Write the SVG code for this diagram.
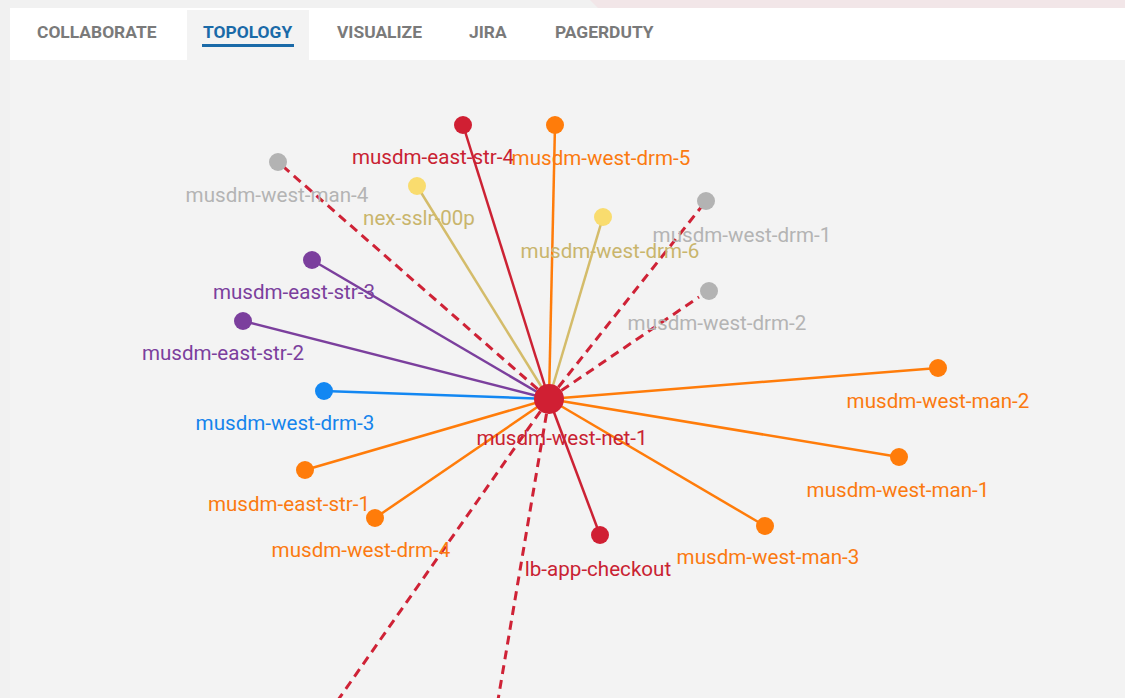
<svg xmlns="http://www.w3.org/2000/svg" width="1125" height="698" viewBox="0 0 1125 698">
<defs>
<style>
.tab{font-family:Roboto,"Liberation Sans",sans-serif;font-weight:bold;font-size:17.4px;fill:#7a7a7a}
.lbl{font-family:Roboto,"Liberation Sans",sans-serif;font-size:20.6px;text-anchor:middle}
.ln{stroke-width:2.5;fill:none}
.dash{stroke:#cf2236;stroke-width:3;stroke-dasharray:9 6;fill:none}
.red{fill:#d01f33}.org{fill:#ff7c0a}.gry{fill:#b3b3b3}.yel{fill:#f9dc6e}.pur{fill:#7b3f9d}.blu{fill:#1287f2}
.tred{fill:#c92232}.torg{fill:#fb7a10}.tgry{fill:#b4b4b4}.tyel{fill:#c9b56c}.tpur{fill:#7b3f9d}.tblu{fill:#1584ec}
</style>
</defs>
<rect x="0" y="0" width="1125" height="698" fill="#f1f1f1"/>
<polygon points="590,0 1125,0 1125,8 598,8" fill="#f2e6e8"/>
<rect x="10" y="8" width="1115" height="52" fill="#ffffff"/>
<rect x="10" y="60" width="1115" height="638" fill="#f3f3f3"/>
<g id="tabs">
<rect x="187" y="10" width="122" height="50" fill="#f3f3f3"/>
<text class="tab" x="37" y="38">COLLABORATE</text>
<text class="tab" x="203" y="38" style="fill:#1a6aa8">TOPOLOGY</text>
<rect x="202" y="44" width="92" height="3" fill="#1a6aa8"/>
<text class="tab" x="337" y="38">VISUALIZE</text>
<text class="tab" x="469" y="38">JIRA</text>
<text class="tab" x="555" y="38">PAGERDUTY</text>
</g>
<g id="connectors">
<line class="dash" x1="549" y1="399" x2="278" y2="162"/>
<line class="dash" x1="549" y1="399" x2="706" y2="201"/>
<line class="dash" x1="549" y1="399" x2="699" y2="297"/>
<line class="dash" x1="549" y1="399" x2="338" y2="700"/>
<line class="dash" x1="549" y1="399" x2="498" y2="700"/>
<line class="ln" stroke="#d4bc6a" x1="549" y1="399" x2="417" y2="186"/>
<line class="ln" stroke="#d4bc6a" x1="549" y1="399" x2="603" y2="217"/>
<line class="ln" stroke="#cc2234" x1="549" y1="399" x2="463" y2="125"/>
<line class="ln" stroke="#ff7c0a" x1="549" y1="399" x2="555" y2="125"/>
<line class="ln" stroke="#7b3f9d" x1="549" y1="399" x2="312" y2="260"/>
<line class="ln" stroke="#7b3f9d" x1="549" y1="399" x2="243" y2="321"/>
<line class="ln" stroke="#1287f2" x1="549" y1="399" x2="324" y2="391"/>
<line class="ln" stroke="#ff7c0a" x1="549" y1="399" x2="938" y2="368"/>
<line class="ln" stroke="#ff7c0a" x1="549" y1="399" x2="899" y2="457"/>
<line class="ln" stroke="#ff7c0a" x1="549" y1="399" x2="765" y2="526"/>
<line class="ln" stroke="#ff7c0a" x1="549" y1="399" x2="305" y2="470"/>
<line class="ln" stroke="#ff7c0a" x1="549" y1="399" x2="375" y2="518"/>
<line class="ln" stroke="#cc2234" x1="549" y1="399" x2="600" y2="535"/>
</g>
<g id="n-musdm-west-net-1"><circle class="red" cx="549" cy="399" r="15"/><text class="lbl tred" x="562" y="445">musdm-west-net-1</text></g>
<g id="n-musdm-east-str-4"><circle class="red" cx="463" cy="125" r="9"/><text class="lbl tred" x="433" y="164">musdm-east-str-4</text></g>
<g id="n-musdm-west-drm-5"><circle class="org" cx="555" cy="125" r="9"/><text class="lbl torg" x="601" y="165">musdm-west-drm-5</text></g>
<g id="n-musdm-west-man-4"><circle class="gry" cx="278" cy="162" r="9"/><text class="lbl tgry" x="277" y="202">musdm-west-man-4</text></g>
<g id="n-nex-sslr-00p"><circle class="yel" cx="417" cy="186" r="9"/><text class="lbl tyel" x="419" y="225">nex-sslr-00p</text></g>
<g id="n-musdm-west-drm-6"><circle class="yel" cx="603" cy="217" r="9"/><text class="lbl tyel" x="610" y="258">musdm-west-drm-6</text></g>
<g id="n-musdm-west-drm-1"><circle class="gry" cx="706" cy="201" r="9"/><text class="lbl tgry" x="742" y="242">musdm-west-drm-1</text></g>
<g id="n-musdm-west-drm-2"><circle class="gry" cx="709" cy="291" r="9"/><text class="lbl tgry" x="717" y="330">musdm-west-drm-2</text></g>
<g id="n-musdm-east-str-3"><circle class="pur" cx="312" cy="260" r="9"/><text class="lbl tpur" x="294" y="299">musdm-east-str-3</text></g>
<g id="n-musdm-east-str-2"><circle class="pur" cx="243" cy="321" r="9"/><text class="lbl tpur" x="223" y="360">musdm-east-str-2</text></g>
<g id="n-musdm-west-drm-3"><circle class="blu" cx="324" cy="391" r="9"/><text class="lbl tblu" x="285" y="430">musdm-west-drm-3</text></g>
<g id="n-musdm-west-man-2"><circle class="org" cx="938" cy="368" r="9"/><text class="lbl torg" x="938" y="408">musdm-west-man-2</text></g>
<g id="n-musdm-west-man-1"><circle class="org" cx="899" cy="457" r="9"/><text class="lbl torg" x="898" y="497">musdm-west-man-1</text></g>
<g id="n-musdm-east-str-1"><circle class="org" cx="305" cy="470" r="9"/><text class="lbl torg" x="289" y="511">musdm-east-str-1</text></g>
<g id="n-musdm-west-drm-4"><circle class="org" cx="375" cy="518" r="9"/><text class="lbl torg" x="361" y="557">musdm-west-drm-4</text></g>
<g id="n-lb-app-checkout"><circle class="red" cx="600" cy="535" r="9"/><text class="lbl tred" x="598" y="576">lb-app-checkout</text></g>
<g id="n-musdm-west-man-3"><circle class="org" cx="765" cy="526" r="9"/><text class="lbl torg" x="768" y="564">musdm-west-man-3</text></g>
</svg>
